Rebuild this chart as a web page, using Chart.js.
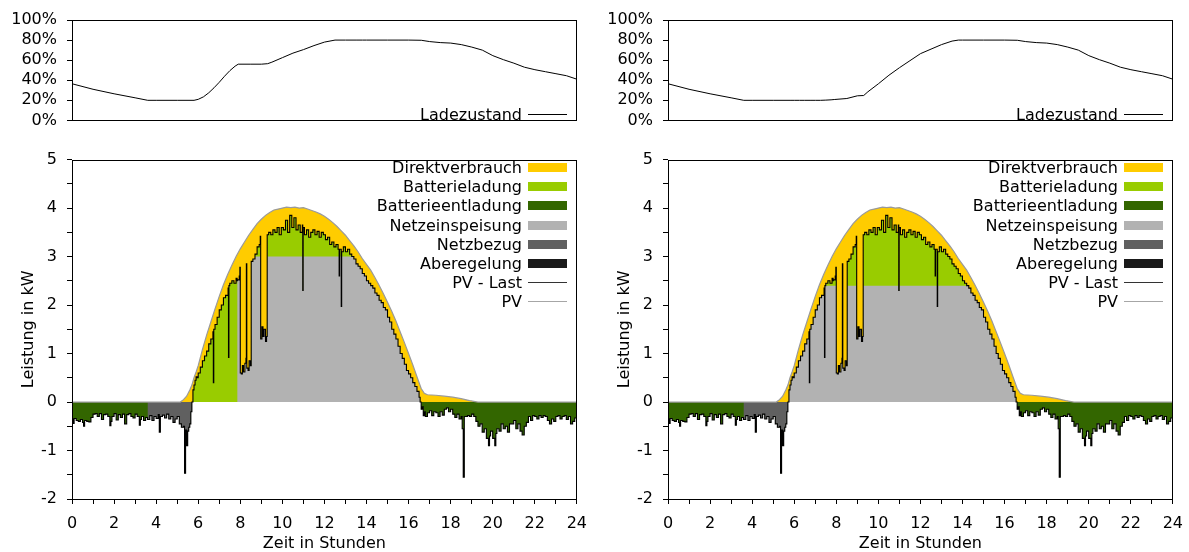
<!DOCTYPE html>
<html>
<head>
<meta charset="utf-8">
<title>PV-Speicher Tagesverlauf</title>
<script src="https://cdn.jsdelivr.net/npm/chart.js"></script>
<style>
  body { margin:0; background:#fff; width:1189px; height:552px; overflow:hidden;
         font-family:"DejaVu Sans", Verdana, sans-serif; }
  .panel { position:absolute; top:0; width:597px; height:552px; }
  .soc { position:absolute; left:0; top:0; width:597px; height:140px; }
  .power { position:absolute; left:0; top:140px; width:597px; height:412px; }
  .legend { position:absolute; right:30px; font-size:16px; color:#000; }
  .legend div { display:flex; justify-content:flex-end; align-items:center; height:19.2px; white-space:nowrap; }
  .legend .box { display:inline-block; width:39px; height:9px; margin-left:6px; }
  .legend .line { display:inline-block; width:39px; height:0; border-top:1.5px solid; margin-left:6px; }
</style>
</head>
<body>

<div class="panel" style="left:0">
  <div class="soc"><canvas id="socA"></canvas></div>
  <div class="power"><canvas id="powA"></canvas></div>
</div>
<div class="panel" style="left:596px">
  <div class="soc"><canvas id="socB"></canvas></div>
  <div class="power"><canvas id="powB"></canvas></div>
</div>

<script>
// time of day in hours for the PV - Last series (load profile, 1 day)
const hours = [
  0, 0.05, 0.1, 0.2, 0.3, 0.4, 0.5, 0.55, 0.6, 0.7,
  0.8, 0.9, 1.0, 1.1, 1.2, 1.3, 1.4, 1.5, 1.6, 1.7,
  1.8, 1.85, 1.9, 2.0, 2.1, 2.2, 2.3, 2.4, 2.5, 2.6,
  2.7, 2.8, 2.9, 3.0, 3.1, 3.2, 3.25, 3.3, 3.4, 3.5,
  3.59, 3.6, 3.7, 3.8, 3.9, 4.0, 4.1, 4.15, 4.2, 4.3,
  4.4, 4.5, 4.6, 4.7, 4.8, 4.9, 5.0, 5.1, 5.2, 5.3,
  5.35, 5.4, 5.45, 5.5, 5.55, 5.6, 5.65, 5.7, 5.75, 5.8,
  5.85, 5.9, 5.95, 6.0, 6.1, 6.2, 6.3, 6.4, 6.5, 6.6,
  6.7, 6.72, 6.74, 6.8, 6.9, 7.0, 7.1, 7.2, 7.3, 7.42,
  7.44, 7.46, 7.5, 7.6, 7.7, 7.8, 7.85, 7.86, 7.95, 7.98,
  8.0, 8.05, 8.1, 8.15, 8.22, 8.27, 8.29, 8.31, 8.37, 8.42,
  8.48, 8.52, 8.6, 8.7, 8.8, 8.9, 8.95, 8.97, 9.03, 9.08,
  9.13, 9.2, 9.25, 9.28, 9.35, 9.45, 9.55, 9.65, 9.75, 9.85,
  9.95, 10.05, 10.15, 10.25, 10.35, 10.45, 10.55, 10.65, 10.75, 10.85,
  10.95, 10.97, 10.99, 11.05, 11.15, 11.25, 11.35, 11.45, 11.55, 11.65,
  11.75, 11.85, 11.95, 12.05, 12.15, 12.25, 12.35, 12.45, 12.55, 12.65,
  12.7, 12.72, 12.8, 12.82, 12.9, 13.0, 13.1, 13.2, 13.3, 13.4,
  13.5, 13.6, 13.7, 13.8, 13.9, 14.0, 14.1, 14.2, 14.3, 14.4,
  14.5, 14.6, 14.7, 14.8, 14.9, 15.0, 15.1, 15.2, 15.3, 15.4,
  15.5, 15.6, 15.7, 15.8, 15.9, 16.0, 16.1, 16.2, 16.3, 16.4,
  16.5, 16.55, 16.6, 16.65, 16.7, 16.75, 16.8, 16.9, 17.0, 17.1,
  17.2, 17.3, 17.4, 17.5, 17.6, 17.7, 17.8, 17.9, 18.0, 18.1,
  18.2, 18.3, 18.4, 18.5, 18.55, 18.6, 18.65, 18.7, 18.8, 18.9,
  19.0, 19.1, 19.2, 19.3, 19.4, 19.5, 19.6, 19.7, 19.8, 19.85,
  19.9, 20.0, 20.1, 20.15, 20.2, 20.3, 20.4, 20.5, 20.6, 20.7,
  20.8, 20.9, 21.0, 21.1, 21.2, 21.3, 21.4, 21.5, 21.6, 21.7,
  21.8, 21.9, 22.0, 22.1, 22.2, 22.3, 22.4, 22.5, 22.6, 22.7,
  22.8, 22.9, 23.0, 23.1, 23.2, 23.3, 23.4, 23.5, 23.6, 23.7,
  23.8, 23.9, 24.0
];
// PV - Last in kW
const pvLast = [
  -0.35, -0.44, -0.34, -0.38, -0.40, -0.36, -0.42, -0.50, -0.38, -0.40,
  -0.41, -0.32, -0.25, -0.24, -0.30, -0.24, -0.36, -0.26, -0.25, -0.30,
  -0.49, -0.40, -0.30, -0.24, -0.37, -0.26, -0.32, -0.25, -0.45, -0.26,
  -0.24, -0.30, -0.33, -0.25, -0.30, -0.48, -0.36, -0.30, -0.38, -0.32,
  -0.36, -0.36, -0.28, -0.38, -0.30, -0.34, -0.26, -0.62, -0.30, -0.27,
  -0.33, -0.25, -0.35, -0.30, -0.42, -0.35, -0.30, -0.45, -0.52, -0.50,
  -1.47, -0.58, -0.90, -0.60, -0.52, -0.45, -0.20, 0.00, 0.25, 0.35,
  0.45, 0.52, 0.50, 0.60, 0.72, 0.85, 0.95, 1.05, 1.20, 1.30,
  1.45, 0.40, 1.50, 1.60, 1.75, 1.90, 2.00, 2.15, 2.20, 2.35,
  0.92, 2.40, 2.45, 2.50, 2.45, 2.55, 2.50, 2.52, 2.60, 2.78,
  0.60, 0.58, 0.75, 0.62, 0.80, 0.90, 2.85, 0.70, 0.65, 0.85,
  0.75, 2.90, 2.95, 3.05, 3.20, 3.25, 3.42, 1.30, 1.55, 1.35,
  1.50, 1.25, 1.35, 3.45, 3.50, 3.45, 3.55, 3.50, 3.60, 3.45,
  3.60, 3.55, 3.75, 3.50, 3.85, 3.60, 3.80, 3.55, 3.65, 3.50,
  3.65, 2.30, 3.60, 3.45, 3.55, 3.40, 3.50, 3.55, 3.45, 3.52,
  3.40, 3.50, 3.45, 3.35, 3.40, 3.25, 3.30, 3.20, 3.25, 3.15,
  2.60, 3.15, 1.97, 3.10, 3.20, 3.10, 3.15, 3.05, 3.00, 2.95,
  2.85, 2.80, 2.75, 2.65, 2.60, 2.50, 2.45, 2.40, 2.35, 2.25,
  2.20, 2.10, 2.05, 1.95, 1.90, 1.75, 1.65, 1.50, 1.40, 1.30,
  1.15, 1.00, 0.90, 0.78, 0.65, 0.58, 0.50, 0.40, 0.32, 0.22,
  0.10, 0.00, -0.15, -0.10, -0.28, -0.20, -0.30, -0.22, -0.18, -0.28,
  -0.20, -0.22, -0.30, -0.20, -0.27, -0.15, -0.12, -0.20, -0.15, -0.25,
  -0.32, -0.25, -0.35, -0.30, -0.55, -1.55, -0.30, -0.30, -0.28, -0.30,
  -0.25, -0.30, -0.40, -0.50, -0.45, -0.62, -0.55, -0.75, -0.90, -0.70,
  -0.60, -0.75, -0.90, -0.65, -0.55, -0.60, -0.45, -0.55, -0.50, -0.62,
  -0.45, -0.45, -0.38, -0.55, -0.45, -0.60, -0.68, -0.50, -0.42, -0.30,
  -0.38, -0.28, -0.30, -0.35, -0.28, -0.32, -0.28, -0.30, -0.38, -0.45,
  -0.35, -0.40, -0.30, -0.28, -0.35, -0.30, -0.28, -0.36, -0.30, -0.45,
  -0.40, -0.33, -0.30
];

// PV generation in kW
const pvHours = [
  0, 5.15, 5.3, 5.45, 5.6, 5.7, 5.8, 5.9, 6.0, 6.2,
  6.4, 6.6, 6.8, 7.0, 7.2, 7.4, 7.6, 7.8, 8.0, 8.2,
  8.4, 8.6, 8.8, 9.0, 9.2, 9.4, 9.6, 9.8, 10.0, 10.2,
  10.4, 10.6, 10.8, 11.0, 11.2, 11.4, 11.6, 11.8, 12.0, 12.2,
  12.4, 12.6, 12.8, 13.0, 13.2, 13.4, 13.6, 13.8, 14.0, 14.2,
  14.4, 14.6, 14.8, 15.0, 15.2, 15.4, 15.6, 15.8, 16.0, 16.2,
  16.4, 16.6, 16.75, 16.9, 17.3, 17.7, 18.1, 18.5, 18.9, 19.3,
  24
];
const pv = [
  0, 0, 0.05, 0.12, 0.25, 0.35, 0.5, 0.62, 0.75, 1.08,
  1.38, 1.65, 1.92, 2.18, 2.42, 2.63, 2.82, 3.0, 3.16, 3.3,
  3.44, 3.56, 3.68, 3.77, 3.85, 3.91, 3.96, 3.98, 4.0, 4.02,
  4.01, 4.02, 4.0, 4.01, 3.98, 3.95, 3.92, 3.88, 3.83, 3.77,
  3.7, 3.62, 3.53, 3.44, 3.33, 3.22, 3.1, 2.96, 2.84, 2.72,
  2.57, 2.41, 2.24, 2.06, 1.87, 1.67, 1.45, 1.23, 1.0, 0.77,
  0.52, 0.28, 0.18, 0.15, 0.14, 0.12, 0.1, 0.07, 0.03, 0,
  0
];

// Ladezustand in %
const socHours = [
  0, 1, 2, 3, 3.6, 4, 5, 5.8, 6, 6.25,
  6.5, 6.75, 7, 7.25, 7.5, 7.75, 7.9, 8.5, 9, 9.3,
  9.5, 10, 10.5, 11, 11.5, 12, 12.5, 13, 13.5, 13.8,
  14, 15, 16, 16.6, 17, 17.5, 18, 18.5, 19, 19.5,
  20, 20.5, 21, 21.5, 22, 22.5, 23, 23.5, 24
];
const socLeft = [
  36.5, 31, 26.5, 22.5, 20, 20, 20, 20, 21, 23.5,
  27.5, 32.5, 38, 44, 49.5, 54, 56, 56, 56, 56.5,
  58, 62.5, 67, 70.5, 74.5, 78, 80, 80, 80, 80,
  80, 80, 80, 79.8, 78.5, 77.5, 77, 75.5, 73, 70,
  64.5, 60.5, 57, 53, 50.5, 48.5, 46.5, 44.5, 41
];
const socRight = [
  36.5, 31, 26.5, 22.5, 20, 20, 20, 20, 20, 20,
  20, 20, 20, 20, 20.2, 20.5, 20.8, 21.8, 24.5, 24.8,
  28.5, 36.5, 45, 52.5, 59.5, 66.5, 71, 75.5, 79, 80,
  80, 80, 80, 79.8, 78.5, 77.5, 77, 75.5, 73, 70,
  64.5, 60.5, 57, 53, 50.5, 48.5, 46.5, 44.5, 41
];

// scenario settings: feed-in limit (kW) and start of feed-in (h)
const feedLimit = [3.0, 2.4];
const feedFrom = [7.86, 0];
// grid purchase window (battery empty)
const purchaseFrom = 3.6, purchaseTo = 5.8;

Chart.defaults.font.family = '"DejaVu Sans", Verdana, sans-serif';
Chart.defaults.font.size = 16;
Chart.defaults.color = '#000';

// black box around the plot area
const frame = {
  id: 'frame',
  afterDatasetsDraw(chart) {
    const {ctx, chartArea: a} = chart;
    ctx.save();
    ctx.strokeStyle = '#000';
    ctx.lineWidth = 1;
    ctx.strokeRect(Math.round(a.left) + 0.5, Math.round(a.top) + 0.5,
                   Math.round(a.width) - 1, Math.round(a.height));
    ctx.restore();
  }
};

const xy = (xs, ys) => xs.map((x, i) => ({x: x, y: ys[i]}));

function socChart(id, soc) {
  new Chart(document.getElementById(id), {
    type: 'line',
    data: {
      datasets: [{
        label: 'Ladezustand',
        data: xy(socHours, soc),
        borderColor: '#000', borderWidth: 1,
        pointRadius: 0, tension: 0, fill: false
      }]
    },
    options: {
      animation: false, responsive: true, maintainAspectRatio: false,
      layout: { padding: { top: 20, right: 20, bottom: 11, left: 0 } },
      plugins: { legend: { display: false }, tooltip: { enabled: false } },
      scales: {
        x: {
          type: 'linear', min: 0, max: 24,
          ticks: { display: false }, grid: { display: false },
          border: { display: false },
          afterFit: s => { s.height = 0; }
        },
        y: {
          min: 0, max: 100,
          ticks: { stepSize: 20, padding: 10, autoSkip: false, callback: v => v + '%' },
          grid: { drawOnChartArea: false, color: '#000', tickLength: 5 },
          border: { display: false },
          afterFit: s => { s.width = 72; }
        }
      }
    },
    plugins: [frame]
  });
}

function powerChart(id, p) {
  const cap = feedLimit[p], start = feedFrom[p];
  const charge = pvLast.map(v => Math.max(v, 0));
  const feed = pvLast.map((v, i) => hours[i] >= start ? Math.min(Math.max(v, 0), cap) : 0);
  const discharge = pvLast.map(v => Math.min(v, 0));
  const purchase = pvLast.map((v, i) =>
    hours[i] >= purchaseFrom && hours[i] <= purchaseTo ? Math.min(v, 0) : 0);

  const area = (label, data, color, order) => ({
    label: label, data: xy(hours, data), backgroundColor: color,
    borderWidth: 0, pointRadius: 0, stepped: true, fill: 'origin', order: order
  });

  new Chart(document.getElementById(id), {
    type: 'line',
    data: {
      datasets: [
        { label: 'PV - Last', data: xy(hours, pvLast), borderColor: '#000', borderWidth: 1.1,
          pointRadius: 0, stepped: true, fill: false, order: 0 },
        { label: 'PV', data: xy(pvHours, pv), borderColor: '#9a9a9a', borderWidth: 1.2,
          pointRadius: 0, tension: 0, fill: false, order: 1 },
        area('Netzbezug', purchase, '#606060', 2),
        area('Batterieentladung', discharge, '#336600', 3),
        area('Netzeinspeisung', feed, '#b2b2b2', 4),
        area('Batterieladung', charge, '#99cc00', 5),
        { label: 'Direktverbrauch', data: xy(pvHours, pv), backgroundColor: '#ffcc00',
          borderWidth: 0, pointRadius: 0, tension: 0, fill: 'origin', order: 6 }
      ]
    },
    options: {
      animation: false, responsive: true, maintainAspectRatio: false,
      layout: { padding: { top: 13, right: 20, bottom: 0, left: 0 } },
      plugins: { legend: { display: false }, tooltip: { enabled: false } },
      scales: {
        x: {
          type: 'linear', min: 0, max: 24,
          ticks: { stepSize: 1, padding: 10, maxRotation: 0, autoSkip: false,
                   callback: v => v % 2 === 0 ? String(v) : '' },
          grid: { drawOnChartArea: false, color: '#000', tickLength: 5 },
          border: { display: false },
          title: { display: true, text: 'Zeit in Stunden', font: { lineHeight: 1 },
                   padding: { top: 0, bottom: 0 } },
          afterFit: s => { s.height = 53; }
        },
        y: {
          min: -2, max: 5,
          ticks: { stepSize: 0.5, padding: 10, autoSkip: false,
                   callback: v => Number.isInteger(v) ? String(v) : '' },
          grid: { drawOnChartArea: false, color: '#000', tickLength: 5 },
          border: { display: false },
          title: { display: true, text: 'Leistung in kW', padding: { top: 19, bottom: 0 } },
          afterFit: s => { s.width = 72; }
        }
      }
    },
    plugins: [frame]
  });
}

socChart('socA', socLeft);
socChart('socB', socRight);
powerChart('powA', 0);
powerChart('powB', 1);

// legends (text left of the symbol, as in the original)
const legendItems = [
  ['Direktverbrauch', 'box', '#ffcc00'],
  ['Batterieladung', 'box', '#99cc00'],
  ['Batterieentladung', 'box', '#336600'],
  ['Netzeinspeisung', 'box', '#b2b2b2'],
  ['Netzbezug', 'box', '#606060'],
  ['Aberegelung', 'box', '#1a1a1a'],
  ['PV - Last', 'line', '#333333'],
  ['PV', 'line', '#a6a6a6']
];
document.querySelectorAll('.panel').forEach(panel => {
  const soc = document.createElement('div');
  soc.className = 'legend';
  soc.style.top = '105.4px';
  soc.innerHTML = '<div>Ladezustand<span class="line" style="border-color:#000"></span></div>';
  panel.appendChild(soc);

  const leg = document.createElement('div');
  leg.className = 'legend';
  leg.style.top = '158px';
  leg.innerHTML = legendItems.map(([t, kind, c]) =>
    kind === 'box'
      ? `<div>${t}<span class="box" style="background:${c}"></span></div>`
      : `<div>${t}<span class="line" style="border-color:${c}"></span></div>`
  ).join('');
  panel.appendChild(leg);
});
</script>
</body>
</html>
